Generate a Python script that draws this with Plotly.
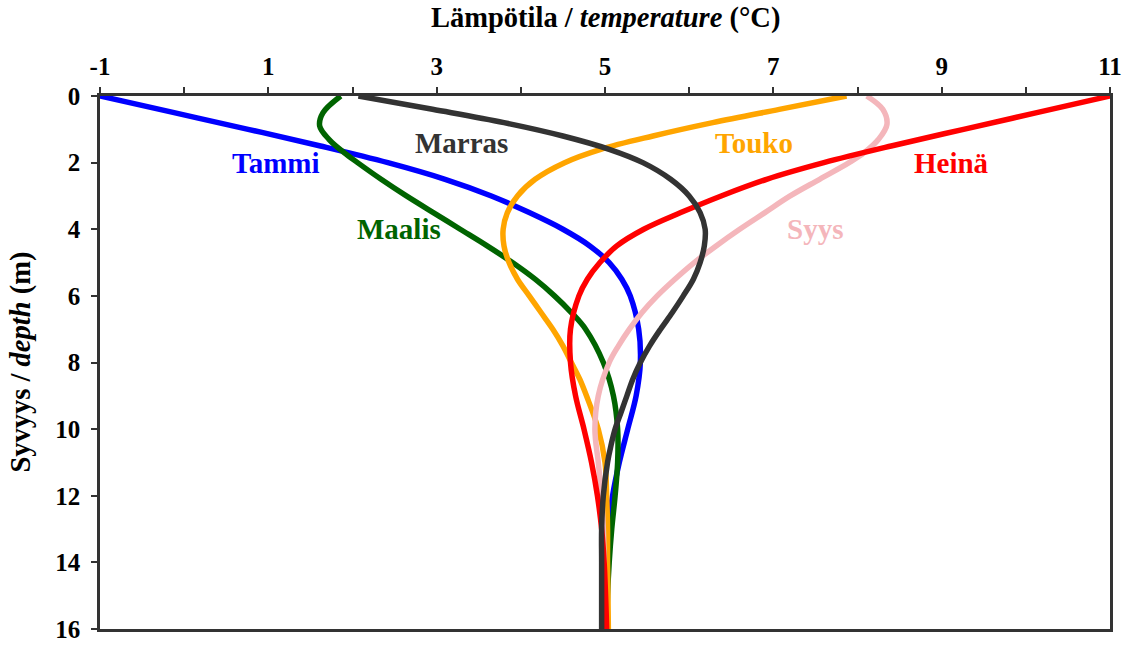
import plotly.graph_objects as go

# Depth (m) and temperature (°C) profiles for each month
depth_tammi = [0, 0.5, 1, 1.5, 2, 2.5, 3, 3.5, 4, 4.5, 5, 5.5, 6, 7, 8, 9, 10, 11, 12, 13, 14, 15, 16]
temp_tammi = [-1, -0.12, 0.76, 1.62, 2.42, 3.1, 3.65, 4.1, 4.5, 4.82, 5.05, 5.2, 5.3, 5.4, 5.42, 5.37, 5.27, 5.17, 5.09, 5.04, 5.01, 4.99, 4.98]

depth_maalis = [0, 0.5, 0.9, 1.3, 1.7, 2, 2.5, 3, 3.5, 4, 4.5, 5, 5.5, 6, 6.5, 7, 8, 9, 10, 11, 12, 13, 14, 15, 16]
temp_maalis = [1.86, 1.65, 1.61, 1.72, 1.9, 2.06, 2.34, 2.64, 2.96, 3.28, 3.6, 3.9, 4.17, 4.4, 4.6, 4.77, 4.98, 5.1, 5.15, 5.15, 5.12, 5.08, 5.05, 5.03, 5.02]

depth_touko = [0, 0.4, 0.8, 1.2, 1.6, 2, 2.5, 3, 3.5, 4, 4.5, 5, 5.5, 6, 6.5, 7, 7.5, 8, 8.5, 9, 10, 11, 12, 13, 14, 16]
temp_touko = [7.87, 7.07, 6.28, 5.57, 4.95, 4.52, 4.17, 3.96, 3.84, 3.79, 3.8, 3.86, 3.96, 4.1, 4.24, 4.38, 4.5, 4.6, 4.7, 4.78, 4.92, 5.0, 5.02, 5.03, 5.03, 5.04]

depth_heina = [0, 0.5, 1, 1.5, 2, 2.5, 3, 3.5, 4, 4.5, 5, 5.5, 6, 7, 8, 9, 10, 11, 12, 13, 14, 16]
temp_heina = [11, 10.13, 9.26, 8.4, 7.6, 6.92, 6.38, 5.9, 5.46, 5.14, 4.94, 4.79, 4.69, 4.59, 4.59, 4.65, 4.75, 4.84, 4.91, 4.96, 4.99, 5.02]

depth_syys = [0, 0.4, 0.85, 1.3, 1.7, 2, 2.5, 3, 3.5, 4, 4.5, 5, 5.5, 6, 6.5, 7, 7.5, 8, 9, 10, 11, 12, 13, 14, 16]
temp_syys = [8.11, 8.3, 8.35, 8.25, 8.08, 7.9, 7.55, 7.2, 6.9, 6.6, 6.32, 6.06, 5.83, 5.62, 5.44, 5.29, 5.16, 5.05, 4.92, 4.88, 4.92, 4.96, 4.98, 4.99, 5.0]

depth_marras = [0, 0.4, 0.8, 1.2, 1.6, 2, 2.5, 3, 3.5, 4, 4.5, 5, 5.5, 6, 6.5, 7, 7.5, 8, 8.5, 9, 9.5, 10, 10.5, 11, 12, 13, 14, 16]
temp_marras = [2.07, 2.95, 3.8, 4.5, 5.05, 5.45, 5.78, 6.0, 6.13, 6.19, 6.18, 6.13, 6.05, 5.93, 5.8, 5.66, 5.53, 5.42, 5.33, 5.26, 5.19, 5.12, 5.07, 5.03, 4.98, 4.96, 4.96, 4.96]

months = ["Tammi", "Maalis", "Touko", "Syys", "Heinä", "Marras"]
colors = ["#0000FF", "#006400", "#FFA500", "#F4B6BB", "#FF0000", "#333333"]
profiles = [
    (temp_tammi, depth_tammi),
    (temp_maalis, depth_maalis),
    (temp_touko, depth_touko),
    (temp_syys, depth_syys),
    (temp_heina, depth_heina),
    (temp_marras, depth_marras),
]

# Label anchor positions (temperature, depth)
label_x = [1.09, 2.55, 6.77, 7.49, 9.12, 3.3]
label_y = [2.0, 4.0, 1.4, 4.0, 2.0, 1.4]

# Axis tick values and their printed labels
x_tickvals = [-1, 1, 3, 5, 7, 9, 11]
x_ticktext = ["-1", "1", "3", "5", "7", "9", "11"]
y_tickvals = [0, 2, 4, 6, 8, 10, 12, 14, 16]
y_ticktext = ["0", "2", "4", "6", "8", "10", "12", "14", "16"]

FONT = "Liberation Serif, Times New Roman, serif"
TICK_FONT = dict(family=FONT, size=25, color="black", weight="bold")
TITLE_FONT = dict(family=FONT, size=28.5, color="black")

fig = go.Figure()
for name, color, (t, d) in zip(months, colors, profiles):
    fig.add_trace(go.Scatter(
        x=t, y=d, mode="lines", name=name,
        line=dict(color=color, width=5.5, shape="spline", smoothing=1.0),
        showlegend=False,
    ))

for name, color, lx, ly in zip(months, colors, label_x, label_y):
    fig.add_annotation(
        x=lx, y=ly, xref="x", yref="y", text=f"<b>{name}</b>",
        showarrow=False, font=dict(family=FONT, size=29, color=color),
    )

# Axis titles
fig.add_annotation(
    x=0.5, y=1, xref="paper", yref="paper", yshift=78, yanchor="middle",
    text="<b>Lämpötila / <i>temperature</i> (°C)</b>", showarrow=False, font=TITLE_FONT,
)
fig.add_annotation(
    x=0, y=0.5, xref="paper", yref="paper", xshift=-80, xanchor="center",
    text="<b>Syvyys / <i>depth</i> (m)</b>", textangle=-90, showarrow=False, font=TITLE_FONT,
)

fig.update_xaxes(
    side="top", range=[-1, 11], tickvals=x_tickvals, ticktext=x_ticktext,
    ticks="outside", ticklen=6, tickwidth=1.5, tickcolor="#333",
    showline=True, linewidth=2.5, linecolor="#333", mirror=True,
    showgrid=False, zeroline=False, automargin=False,
    tickfont=TICK_FONT, ticklabelstandoff=2, ticklabeloverflow="allow",
    minor=dict(tickvals=[0, 2, 4, 6, 8, 10], ticks="outside", ticklen=6, tickwidth=1.5,
               tickcolor="#333", showgrid=False),
)
fig.update_yaxes(
    range=[16, 0], tickvals=y_tickvals, ticktext=y_ticktext,
    ticks="outside", ticklen=6, tickwidth=1.5, tickcolor="#333",
    showline=True, linewidth=2.5, linecolor="#333", mirror=True,
    showgrid=False, zeroline=False, automargin=False,
    tickfont=TICK_FONT, ticklabelstandoff=6, ticklabeloverflow="allow",
)

fig.update_layout(
    width=1138, height=646,
    margin=dict(l=100, r=28, t=96, b=17),
    plot_bgcolor="white", paper_bgcolor="white",
)

fig.write_html("out.html")
